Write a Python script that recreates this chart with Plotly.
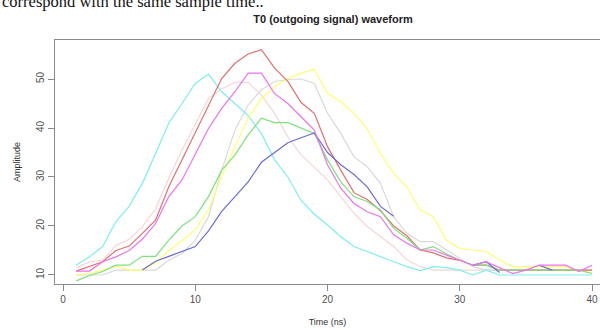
import plotly.graph_objects as go

time_ns = list(range(1, 41))

cyan = [12, 13.7, 15.8, 20.9, 24, 28.7, 34.8, 41, 45, 49.1, 51, 47.4, 45, 42.5, 38.9, 33.5, 30, 25.2, 22.4, 20.2,
        17.8, 15.8, 14.8, 13.7, 12.7, 11.7, 10.9, 11.7, 11.5, 11, 10, 11, 10, 10, 10, 10, 10, 10, 10, 10]
red = [10.8, 11.7, 12.7, 15, 15.9, 18.5, 21.2, 28, 33.5, 38.9, 44.4, 50.1, 53.2, 55.1, 56, 52.2, 49.5, 45.2, 43, 36.2,
       31.4, 26.8, 25.4, 23.1, 20, 18, 15.1, 14.5, 13.5, 13, 12, 12, 11, 11, 11, 11, 11, 11, 11, 11]
pink = [11.5, 12.7, 13, 16, 17.3, 19.8, 23.5, 29.8, 35.5, 40.6, 46, 48, 49.3, 49.3, 46.7, 43, 38.2, 34.5, 32, 29.4,
        26, 22.6, 19.9, 17.8, 15.8, 13.1, 11.7, 11, 11, 11, 11, 11, 11, 11, 11, 11, 11, 11, 11, 11]
magenta = [10.8, 10.8, 12.7, 13.7, 15, 17.3, 20.5, 26, 29.4, 34.8, 39.9, 44, 47.4, 51.2, 51.2, 47, 45, 42.3, 39.6, 32.5,
           27.7, 24.6, 22.9, 21.9, 18.2, 16.5, 15.1, 15.1, 14, 13, 12, 12.7, 11.5, 10.3, 11, 12, 12, 12, 10.7, 12]
gray = [10, 10, 10, 11, 11, 11, 11, 13, 14.4, 17.1, 21.9, 31.4, 39.6, 44.7, 47.8, 49.5, 49.9, 50, 49.1, 43,
        38.9, 34.1, 32.1, 28.7, 21.9, 18.5, 16.8, 16.8, 15.1, 13.4, 11.7, 11, 11, 11, 11, 11, 11, 11, 11, 11]
yellow = [10, 10.3, 11, 11.8, 11, 11, 12.5, 15, 17, 19.2, 23.3, 30.1, 36.2, 42, 46, 48.4, 50.1, 51.2, 52, 47.1,
          45.4, 43, 39.9, 34.8, 30.7, 28, 23.3, 21.9, 17.1, 15.4, 15.1, 14.8, 13.1, 11.7, 11.7, 11.7, 11.7, 11.7, 11, 10.5]
green = [8.8, 9.9, 10.7, 12, 12, 13.8, 13.8, 17.1, 20, 21.9, 26, 31.4, 34.5, 38.6, 42, 41.1, 41.1, 40, 38.9, 33.5,
         29, 26, 25, 23.3, 19.5, 17.5, 15.1, 15.8, 14.3, 13, 12, 12, 11, 11, 11, 11, 11, 11, 11, 10.3]
blue = [None, None, None, None, None, 11, 12.8, 13.8, 14.8, 15.8, 19, 23, 26, 29, 33, 35, 37, 38, 39, 35,
        32.5, 30.5, 28, 24, 22, None, None, None, None, None, 12, 12.7, 10.5, None, None, 12, 11, None, None, None]

series = [
    ("pink", pink, "#F7D6D6"),
    ("gray", gray, "#D9D9D9"),
    ("cyan", cyan, "#7DEFEF"),
    ("yellow", yellow, "#FFFF6E"),
    ("red", red, "#E36F6F"),
    ("green", green, "#7DE27D"),
    ("blue", blue, "#6C6CD6"),
    ("magenta", magenta, "#EE72EE"),
]

x_ticks = [0, 10, 20, 30, 40]
y_ticks = [10, 20, 30, 40, 50]

fig = go.Figure()
for name, vals, col in series:
    fig.add_trace(go.Scatter(x=time_ns, y=vals, mode="lines", name=name,
                             line=dict(color=col, width=1.2), connectgaps=False,
                             showlegend=False, hoverinfo="skip"))

axis_col = "#8a8a8a"
tick_font = dict(family="Liberation Sans, Arial, sans-serif", size=10, color="#505050")

fig.update_layout(
    width=600, height=330,
    margin=dict(l=55, r=0, t=40, b=46),
    paper_bgcolor="white", plot_bgcolor="white",
    title=dict(text="<b>T0 (outgoing signal) waveform</b>", x=333 / 600, xanchor="center",
               y=1 - 19 / 330, yanchor="middle", yref="container",
               font=dict(family="Liberation Sans, Arial, sans-serif", size=11, color="#222222")),
    xaxis=dict(range=[-0.605, 40.6], tickvals=x_ticks, ticks="outside", ticklen=6, tickcolor=axis_col,
               showline=True, linecolor=axis_col, linewidth=1, mirror=True, showgrid=False, zeroline=False,
               tickfont=tick_font, automargin=False,
               title=dict(text="Time (ns)", standoff=14,
                          font=dict(family="Liberation Sans, Arial, sans-serif", size=9, color="#333333"))),
    yaxis=dict(range=[8.16, 57.96], tickvals=y_ticks, ticks="outside", ticklen=6, tickcolor=axis_col,
               showline=True, linecolor=axis_col, linewidth=1, mirror=False, showgrid=False, zeroline=False,
               tickfont=tick_font, tickangle=-90, automargin=False,
               title=dict(text="Amplitude", standoff=12,
                          font=dict(family="Liberation Sans, Arial, sans-serif", size=9, color="#333333"))),
    annotations=[dict(text="correspond with the same sample time..", xref="paper", yref="paper",
                      x=-55 / 545, y=(284 - 1) / 244, xanchor="left", yanchor="middle", showarrow=False,
                      font=dict(family="Liberation Serif, Times New Roman, serif", size=16.5, color="#111111"))],
)

fig.write_html("out.html", config={"displayModeBar": False},
               post_script="document.body.style.margin='0';document.body.style.padding='0';")
